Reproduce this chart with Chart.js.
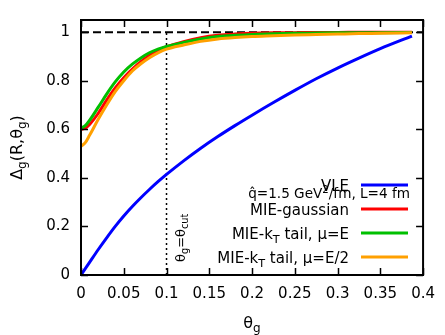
<!DOCTYPE html>
<html><head><meta charset="utf-8">
<script src="https://cdn.jsdelivr.net/npm/chart.js@4.4.0/dist/chart.umd.min.js"></script>
<style>html,body{margin:0;padding:0;background:#fff;}#wrap{width:445px;height:335px;}</style>
</head><body><div id="wrap"><canvas id="c" width="445" height="335"></canvas></div>
<script>
const thetaG    = [0,0.005,0.01,0.02,0.03,0.04,0.05,0.06,0.07,0.08,0.09,0.1,0.12,0.14,0.16,0.18,0.2,0.225,0.25,0.275,0.3,0.325,0.35,0.387];
const vle       = [0,0.026,0.052,0.104,0.153,0.2,0.243,0.282,0.318,0.352,0.384,0.414,0.47,0.522,0.57,0.615,0.658,0.71,0.76,0.808,0.852,0.893,0.932,0.984];
const mieGauss  = [0.6,0.605,0.62,0.665,0.72,0.77,0.812,0.848,0.878,0.905,0.925,0.94,0.961,0.977,0.987,0.992,0.995,0.997,0.998,0.999,0.999,1.0,1.0,1.0];
const mieTailE  = [0.605,0.615,0.637,0.69,0.745,0.795,0.836,0.868,0.894,0.915,0.93,0.941,0.958,0.972,0.982,0.987,0.99,0.993,0.995,0.996,0.997,0.998,0.998,0.999];
const mieTailE2 = [0.53,0.545,0.575,0.64,0.7,0.755,0.8,0.84,0.87,0.895,0.915,0.93,0.947,0.962,0.972,0.978,0.982,0.985,0.988,0.99,0.992,0.994,0.995,0.997];
const xTicks = [0,0.05,0.1,0.15,0.2,0.25,0.3,0.35,0.4];
const xTickLabels = ['0','0.05','0.1','0.15','0.2','0.25','0.3','0.35','0.4'];
const yTicks = [0,0.2,0.4,0.6,0.8,1];
const yTickLabels = ['0','0.2','0.4','0.6','0.8','1'];
const seriesNames = ['VLE','MIE-gaussian','MIE-k_{T} tail, \u03bc=E','MIE-k_{T} tail, \u03bc=E/2'];
const seriesColors = ['#0000ff','#ff0000','#00c000','#ffa000'];
const refLevel = 1;
const thetaCut = 0.1;
const xTitle = '\u03b8_{g}';
const yTitle = '\u0394_{g}(R,\u03b8_{g})';
const cutLabel = '\u03b8_{g}=\u03b8_{cut}';
const paramLabel = 'q\u0302=1.5 GeV^{2}/fm, L=4 fm';

const FAM = '"DejaVu Sans", sans-serif';

function parseRich(s){
  const segs=[]; let i=0; let buf='';
  while(i<s.length){
    if((s[i]==='_'||s[i]==='^') && s[i+1]==='{'){
      if(buf){segs.push({t:buf,m:0});buf='';}
      const end=s.indexOf('}',i);
      segs.push({t:s.slice(i+2,end),m:s[i]==='_'?1:2});
      i=end+1;
    } else {buf+=s[i];i++;}
  }
  if(buf) segs.push({t:buf,m:0});
  return segs;
}
function richWidth(ctx,s,size){
  let w=0;
  for(const g of parseRich(s)){
    ctx.font=(g.m?size*0.75:size)+'px '+FAM;
    w+=ctx.measureText(g.t).width;
  }
  return w;
}
function drawRich(ctx,s,x,y,size,align){
  const w=richWidth(ctx,s,size);
  let cx = align==='right'? x-w : align==='center'? x-w/2 : x;
  ctx.textBaseline='alphabetic';
  ctx.textAlign='left';
  for(const g of parseRich(s)){
    const fs=g.m?size*0.75:size;
    ctx.font=fs+'px '+FAM;
    const dy = g.m===1? size*0.28 : g.m===2? -size*0.38 : 0;
    ctx.fillText(g.t,cx,y+dy);
    cx+=ctx.measureText(g.t).width;
  }
}

const mk = arr => thetaG.map((x,i)=>({x:x,y:arr[i]}));
const curves=[vle,mieGauss,mieTailE,mieTailE2];
const datasets = curves.map((arr,k)=>({
  label: seriesNames[k], data: mk(arr), borderColor: seriesColors[k], backgroundColor: seriesColors[k],
  borderWidth: 3, pointRadius: 0, fill:false, cubicInterpolationMode:'monotone', order: 4-k
}));
datasets.push({label:'ref',data:[{x:0,y:refLevel},{x:0.4,y:refLevel}],borderColor:'#000',borderWidth:2,borderDash:[8,4],pointRadius:0,order:10,tension:0});
datasets.push({label:'cut',data:[{x:thetaCut,y:0},{x:thetaCut,y:refLevel}],borderColor:'#000',borderWidth:1.5,borderDash:[2,3],pointRadius:0,order:9,tension:0});

const deco = {
  id:'deco',
  afterDraw(chart){
    const ctx=chart.ctx, a=chart.chartArea, xs=chart.scales.x, ys=chart.scales.y;
    ctx.save();
    ctx.strokeStyle='#000'; ctx.lineWidth=1.5;
    ctx.beginPath();
    xTicks.forEach(v=>{const p=Math.round(xs.getPixelForValue(v))+0.5;
      ctx.moveTo(p,a.bottom);ctx.lineTo(p,a.bottom-7);ctx.moveTo(p,a.top);ctx.lineTo(p,a.top+7);});
    yTicks.forEach(v=>{const p=Math.round(ys.getPixelForValue(v))+0.5;
      ctx.moveTo(a.left,p);ctx.lineTo(a.left+7,p);ctx.moveTo(a.right,p);ctx.lineTo(a.right-7,p);});
    ctx.stroke();
    ctx.lineWidth=2;
    ctx.strokeRect(a.left,a.top,a.right-a.left,a.bottom-a.top);
    ctx.fillStyle='#000';
    drawRich(ctx,xTitle,(a.left+a.right)/2,328,16,'center');
    ctx.save(); ctx.translate(22,(a.top+a.bottom)/2); ctx.rotate(-Math.PI/2);
    drawRich(ctx,yTitle,0,0,16,'center'); ctx.restore();
    ctx.save(); ctx.translate(xs.getPixelForValue(thetaCut)+18,262); ctx.rotate(-Math.PI/2);
    drawRich(ctx,cutLabel,0,0,13,'left'); ctx.restore();
    const rows=[185,209,233,257];
    seriesNames.forEach((n,k)=>{
      ctx.fillStyle='#000';
      drawRich(ctx,n,349,rows[k]+5.5,15,'right');
      ctx.strokeStyle=seriesColors[k]; ctx.lineWidth=3;
      ctx.beginPath(); ctx.moveTo(361,rows[k]); ctx.lineTo(408,rows[k]); ctx.stroke();
    });
    ctx.fillStyle='#000';
    drawRich(ctx,paramLabel,410,198,13.6,'right');
    ctx.restore();
  }
};

new Chart(document.getElementById('c'),{
  type:'line',
  data:{datasets},
  options:{
    responsive:false, animation:false, devicePixelRatio:1,
    layout:{padding:{top:7,right:17,left:0,bottom:0}},
    plugins:{legend:{display:false},tooltip:{enabled:false}},
    scales:{
      x:{type:'linear',min:0,max:0.4,
        grid:{display:false,drawTicks:false}, border:{display:false},
        afterBuildTicks:s=>{s.ticks=xTicks.map(v=>({value:v}));},
        afterFit:s=>{s.height=60;},
        ticks:{padding:10,color:'#000',font:{family:FAM,size:15},maxRotation:0,autoSkip:false,
          callback:(v,i)=>xTickLabels[i]}},
      y:{type:'linear',min:0,max:1.05,
        grid:{display:false,drawTicks:false}, border:{display:false},
        afterBuildTicks:s=>{s.ticks=yTicks.map(v=>({value:v}));},
        afterFit:s=>{s.width=81;},
        ticks:{padding:11,color:'#000',font:{family:FAM,size:15},autoSkip:false,
          callback:(v,i)=>yTickLabels[i]}}
    }
  },
  plugins:[deco]
});
</script></body></html>
